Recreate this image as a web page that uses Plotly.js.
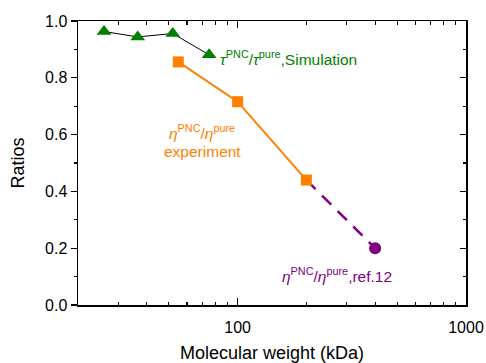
<!DOCTYPE html>
<html>
<head>
<meta charset="utf-8">
<script src="https://cdn.plot.ly/plotly-3.0.1.min.js"></script>
<style>html,body{margin:0;padding:0;background:#fff;}#chart{width:486px;height:363px;}</style>
</head>
<body>
<div id="chart"></div>
<script>
// Simulation tau ratio (green triangles)
const simMw = [26, 36.5, 52, 75];
const simRatio = [0.963, 0.944, 0.956, 0.881];
// Experiment viscosity ratio (orange squares)
const expMw = [55, 100, 200];
const expRatio = [0.856, 0.716, 0.44];
// Ref. 12 viscosity ratio (purple, dashed link from last experiment point)
const refLinkMw = [200, 400];
const refLinkRatio = [0.44, 0.2];
const refMw = [400];
const refRatio = [0.2];

const xTickVals = [100, 1000];
const xTickText = ['100', '1000'];
const xMinorVals = [20, 30, 40, 50, 60, 70, 80, 90, 200, 300, 400, 500, 600, 700, 800, 900];

const GREEN = 'rgb(0,128,0)';
const ORANGE = 'rgb(255,128,0)';
const PURPLE = 'rgb(128,0,128)';
const FONT = 'Liberation Sans, Arial, Helvetica, sans-serif';

const traces = [
  {x: refLinkMw, y: refLinkRatio, mode: 'lines', line: {color: PURPLE, width: 2.5, dash: '13px,9px'}, hoverinfo: 'skip'},
  {x: refMw, y: refRatio, mode: 'markers', marker: {symbol: 'circle', size: 12, color: PURPLE}},
  {x: expMw, y: expRatio, mode: 'lines+markers', line: {color: ORANGE, width: 2}, marker: {symbol: 'square', size: 11, color: ORANGE}},
  {x: simMw, y: simRatio, mode: 'lines+markers', line: {color: 'black', width: 1}, marker: {symbol: 'triangle-up', size: 13, color: GREEN}},
  {x: [], y: [], yaxis: 'y2', mode: 'markers', hoverinfo: 'skip'}
];

const layout = {
  width: 486, height: 363,
  margin: {l: 78, r: 20, t: 21, b: 58},
  paper_bgcolor: 'white', plot_bgcolor: 'white',
  showlegend: false,
  font: {family: FONT, size: 16, color: 'black'},
  xaxis: {
    type: 'log', range: [Math.log10(20), 3],
    tickmode: 'array', tickvals: xTickVals, ticktext: xTickText,
    ticks: 'inside', ticklen: 7, tickwidth: 1.3, tickcolor: 'black',
    ticklabelstandoff: 7,
    minor: {ticks: 'inside', ticklen: 3.5, tickwidth: 1.2, tickcolor: 'black', tickmode: 'array', tickvals: xMinorVals, showgrid: false},
    showline: true, linecolor: 'black', linewidth: 1.5, mirror: 'ticks',
    showgrid: false, zeroline: false,
    tickfont: {family: FONT, size: 16, color: 'black'},
    title: {text: 'Molecular weight (kDa)', font: {family: FONT, size: 18, color: 'black'}, standoff: 12},
    automargin: false
  },
  yaxis: {
    range: [0, 1], tickmode: 'linear', tick0: 0, dtick: 0.2, tickformat: '.1f',
    ticks: 'outside', ticklen: 6, tickwidth: 1.3, tickcolor: 'black',
    minor: {ticks: 'outside', ticklen: 3, tickwidth: 1.2, tickcolor: 'black', dtick: 0.1, tick0: 0, showgrid: false},
    showline: true, linecolor: 'black', linewidth: 1.5,
    showgrid: false, zeroline: false,
    tickfont: {family: FONT, size: 16, color: 'black'},
    title: {text: 'Ratios', font: {family: FONT, size: 18, color: 'black'}, standoff: 15},
    automargin: false
  },
  yaxis2: {
    overlaying: 'y', side: 'right', anchor: 'x', range: [0, 1],
    tickmode: 'linear', tick0: 0, dtick: 0.2,
    ticks: 'inside', ticklen: 6, tickwidth: 1.3, tickcolor: 'black',
    minor: {ticks: 'inside', ticklen: 3, tickwidth: 1.2, tickcolor: 'black', dtick: 0.1, tick0: 0, showgrid: false},
    showticklabels: false,
    showline: true, linecolor: 'black', linewidth: 1.5,
    showgrid: false, zeroline: false
  },
  annotations: [
    {xref: 'x', yref: 'y', x: 1.916, y: 0.869, xanchor: 'left', yanchor: 'middle', showarrow: false,
     text: '<i>τ</i><sup>PNC</sup>/<i>τ</i><sup>pure</sup>,Simulation', font: {family: FONT, size: 15.5, color: GREEN}},
    {xref: 'x', yref: 'y', x: 1.842, y: 0.61, xanchor: 'center', yanchor: 'middle', showarrow: false,
     text: '<i>η</i><sup>PNC</sup>/<i>η</i><sup>pure</sup>', font: {family: FONT, size: 15.5, color: ORANGE}},
    {xref: 'x', yref: 'y', x: 1.8457, y: 0.54, xanchor: 'center', yanchor: 'middle', showarrow: false,
     text: 'experiment', font: {family: FONT, size: 15.5, color: ORANGE}},
    {xref: 'x', yref: 'y', x: 2.4338, y: 0.105, xanchor: 'center', yanchor: 'middle', showarrow: false,
     text: '<i>η</i><sup>PNC</sup>/<i>η</i><sup>pure</sup>,ref.12', font: {family: FONT, size: 15.5, color: PURPLE}}
  ]
};

Plotly.newPlot('chart', traces, layout, {staticPlot: true, displayModeBar: false});
</script>
</body>
</html>
